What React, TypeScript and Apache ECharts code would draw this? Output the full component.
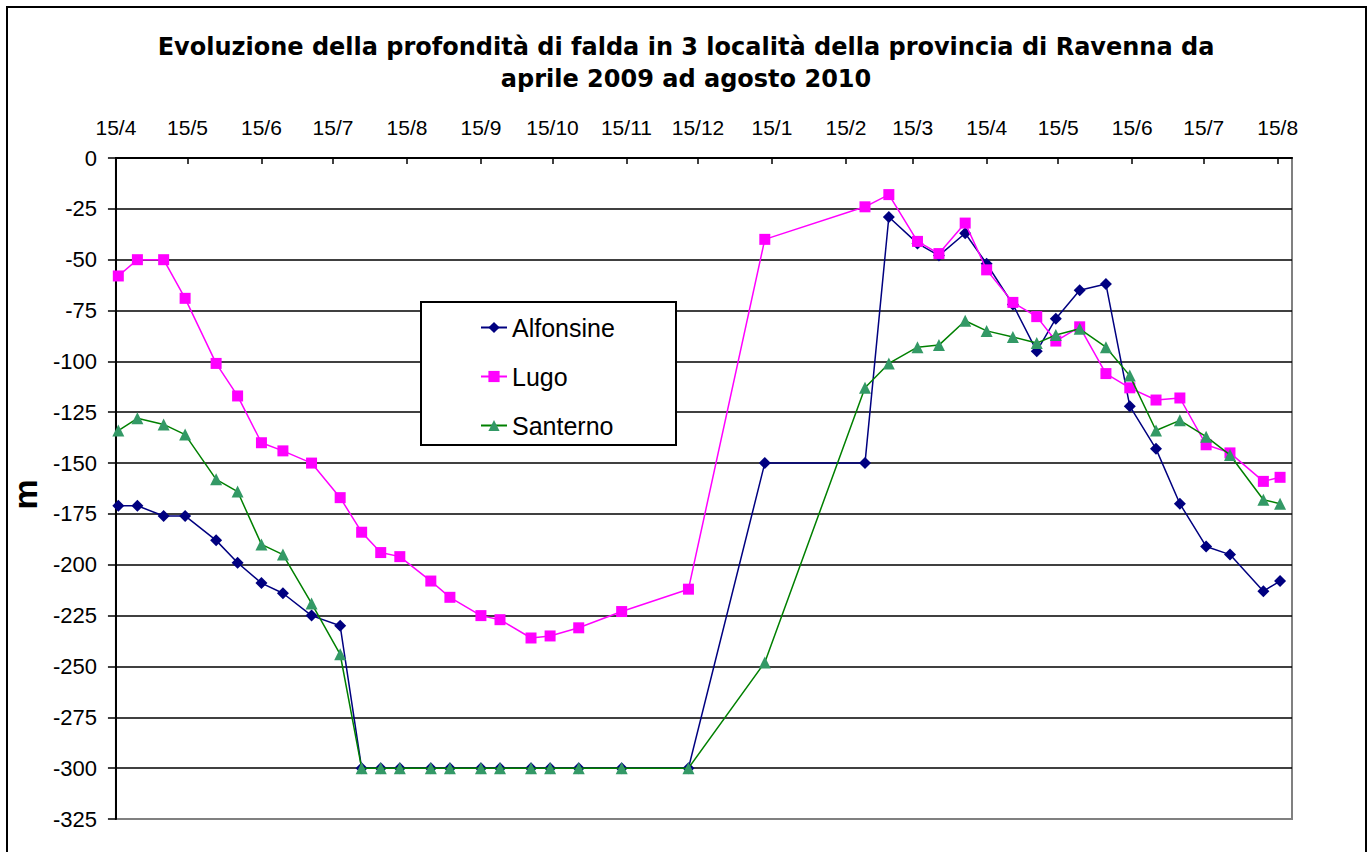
import React, { useEffect, useRef } from "react";
import * as echarts from "echarts";

const DATES = [
  "2009-04-16", "2009-04-24", "2009-05-05", "2009-05-14", "2009-05-27", "2009-06-05",
  "2009-06-15", "2009-06-24", "2009-07-06", "2009-07-18", "2009-07-27", "2009-08-04",
  "2009-08-12", "2009-08-25", "2009-09-02", "2009-09-15", "2009-09-23", "2009-10-06",
  "2009-10-14", "2009-10-26", "2009-11-13", "2009-12-11", "2010-01-12", "2010-02-23",
  "2010-03-05", "2010-03-17", "2010-03-26", "2010-04-06", "2010-04-15", "2010-04-26",
  "2010-05-06", "2010-05-14", "2010-05-24", "2010-06-04", "2010-06-14", "2010-06-25",
  "2010-07-05", "2010-07-16", "2010-07-26", "2010-08-09", "2010-08-16",
];

const ALFONSINE = [
  -171, -171, -176, -176, -188, -199, -209, -214, -225, -230, -300, -300,
  -300, -300, -300, -300, -300, -300, -300, -300, -300, -300, -150, -150,
  -29, -42, -48, -37, -52, -72, -95, -79, -65, -62, -122, -143,
  -170, -191, -195, -213, -208,
];

const LUGO = [
  -58, -50, -50, -69, -101, -117, -140, -144, -150, -167, -184, -194,
  -196, -208, -216, -225, -227, -236, -235, -231, -223, -212, -40, -24,
  -18, -41, -47, -32, -55, -71, -78, -90, -83, -106, -113, -119,
  -118, -141, -145, -159, -157,
];

const SANTERNO = [
  -134, -128, -131, -136, -158, -164, -190, -195, -219, -244, -300, -300,
  -300, -300, -300, -300, -300, -300, -300, -300, -300, -300, -248, -113,
  -101, -93, -92, -80, -85, -88, -91, -87, -84, -93, -107, -134,
  -129, -137, -146, -168, -170,
];

const X_TICKS = [
  "2009-04-15", "2009-05-15", "2009-06-15", "2009-07-15", "2009-08-15", "2009-09-15",
  "2009-10-15", "2009-11-15", "2009-12-15", "2010-01-15", "2010-02-15", "2010-03-15",
  "2010-04-15", "2010-05-15", "2010-06-15", "2010-07-15", "2010-08-15",
];

const X_MIN = "2009-04-15";
const X_MAX = "2010-08-21";

const TITLE = "Evoluzione della profondità di falda in 3 località della provincia di Ravenna da\naprile 2009 ad agosto 2010";

const DAY = 86400000;
function utc(s: string): number {
  const [y, m, d] = s.split("-").map(Number);
  return Date.UTC(y, m - 1, d);
}
const ORIGIN = utc(X_MIN);
function dayOf(s: string): number {
  return Math.round((utc(s) - ORIGIN) / DAY);
}

const FONT = "'Liberation Sans', Arial, sans-serif";

export default function App() {
  const ref = useRef<HTMLDivElement>(null);
  useEffect(() => {
    if (!ref.current) return;
    const chart = echarts.init(ref.current, null, { renderer: "svg" });
    const tickVals = X_TICKS.map(dayOf);
    const mk = (vals: number[]) => DATES.map((d, i) => [dayOf(d), vals[i]]);
    chart.setOption({
      animation: false,
      backgroundColor: "#fff",
      title: {
        text: TITLE,
        left: "center",
        top: 31,
        padding: 0,
        textStyle: {
          fontSize: 24,
          fontWeight: "bold",
          fontFamily: "'DejaVu Sans', sans-serif",
          lineHeight: 32,
          color: "#000",
        },
      },
      grid: {
        left: 114,
        right: 80,
        top: 158,
        bottom: 33,
        show: true,
        borderColor: "#808080",
        borderWidth: 2,
        backgroundColor: "transparent",
      },
      legend: {
        show: true,
        orient: "vertical",
        left: 480,
        top: 315,
        padding: 0,
        itemWidth: 26,
        itemHeight: 14,
        itemGap: 24,
        z: 100,
        textStyle: { fontSize: 25, color: "#000", fontFamily: FONT, lineHeight: 24 },
        data: ["Alfonsine", "Lugo", "Santerno"],
      },
      graphic: [
        {
          type: "rect",
          z: 50,
          shape: { x: 7, y: 7, width: 1359, height: 900 },
          style: { fill: "transparent", stroke: "#000", lineWidth: 2 },
          silent: true,
        },
        {
          type: "rect",
          z: 50,
          shape: { x: 421, y: 302, width: 255, height: 143 },
          style: { fill: "#fff", stroke: "#000", lineWidth: 2 },
          silent: true,
        },
      ],
      xAxis: {
        type: "value",
        position: "top",
        min: 0,
        max: dayOf(X_MAX),
        axisLine: { show: true, onZero: false, lineStyle: { color: "#000", width: 2 } },
        axisTick: {
          show: true,
          inside: true,
          length: 6,
          lineStyle: { color: "#000", width: 1.5 },
          customValues: tickVals,
        },
        axisLabel: {
          customValues: tickVals,
          formatter: (v: number) => {
            const d = new Date(ORIGIN + v * DAY);
            return d.getUTCDate() + "/" + (d.getUTCMonth() + 1);
          },
          fontSize: 21,
          color: "#000",
          fontFamily: FONT,
          margin: 20,
          hideOverlap: false,
        },
        splitLine: { show: false },
      },
      yAxis: {
        type: "value",
        min: -325,
        max: 0,
        interval: 25,
        name: "m",
        nameLocation: "middle",
        nameGap: 66,
        nameRotate: 90,
        nameTextStyle: {
          fontSize: 34,
          fontWeight: "bold",
          color: "#000",
          fontFamily: FONT,
          padding: [0, 12, 0, 0],
        },
        axisLine: { show: true, lineStyle: { color: "#000", width: 2 } },
        axisTick: { show: true, length: 8, lineStyle: { color: "#000", width: 1.5 } },
        axisLabel: { fontSize: 22, color: "#000", margin: 19, fontFamily: FONT },
        splitLine: { show: true, showMinLine: false, lineStyle: { color: "#000", width: 1.5 } },
      },
      series: [
        {
          name: "Alfonsine",
          type: "line",
          data: mk(ALFONSINE),
          symbol: "diamond",
          symbolSize: 12,
          showAllSymbol: true,
          lineStyle: { color: "#000080", width: 1.5 },
          itemStyle: { color: "#000080" },
          z: 2,
        },
        {
          name: "Lugo",
          type: "line",
          data: mk(LUGO),
          symbol: "rect",
          symbolSize: 11,
          showAllSymbol: true,
          lineStyle: { color: "#FF00FF", width: 1.5 },
          itemStyle: { color: "#FF00FF" },
          z: 3,
        },
        {
          name: "Santerno",
          type: "line",
          data: mk(SANTERNO),
          symbol: "triangle",
          symbolSize: 12,
          showAllSymbol: true,
          lineStyle: { color: "#008000", width: 1.5 },
          itemStyle: { color: "#339966" },
          z: 4,
        },
      ],
    });
    return () => chart.dispose();
  }, []);
  return (
    <div
      ref={ref}
      style={{ position: "fixed", left: 0, top: 0, width: 1372, height: 852, background: "#fff" }}
    />
  );
}
